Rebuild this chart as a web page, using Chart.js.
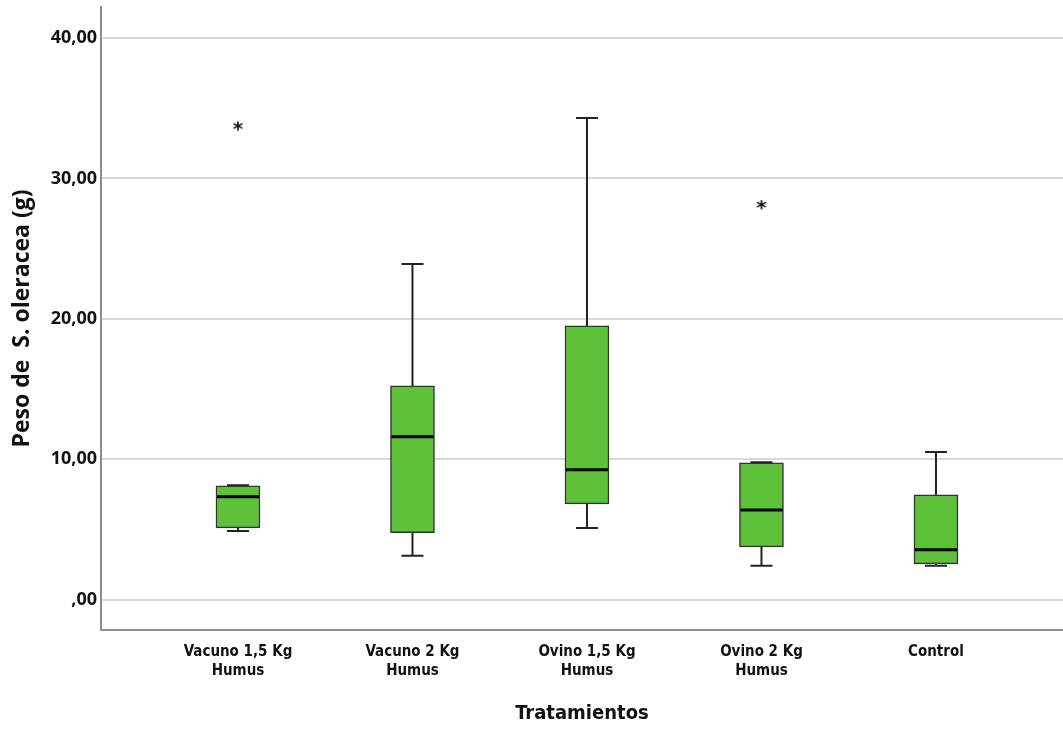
<!DOCTYPE html>
<html>
<head>
<meta charset="utf-8">
<script src="https://cdn.jsdelivr.net/npm/chart.js@4/dist/chart.umd.min.js"></script>
<style>
  body { margin: 0; background: #fff; overflow: hidden; }
  canvas { display: block; }
</style>
</head>
<body>
<canvas id="myChart" width="1063" height="729"></canvas>
<script>
var categories = [['Vacuno 1,5 Kg', 'Humus'], ['Vacuno 2 Kg', 'Humus'], ['Ovino 1,5 Kg', 'Humus'], ['Ovino 2 Kg', 'Humus'], ['Control']];
var whiskerLow  = [4.90, 3.13, 5.12, 2.42, 2.42];
var q1          = [5.12, 4.77, 6.83, 3.77, 2.56];
var median      = [7.33, 11.60, 9.25, 6.40, 3.56];
var q3          = [8.11, 15.23, 19.50, 9.75, 7.47];
var whiskerHigh = [8.15, 23.90, 34.30, 9.80, 10.53];
var outlierCat  = [1, 4];
var outlierVal  = [33.7, 28.1];
var yTicks      = [0, 10, 20, 30, 40];

var boxData = categories.map(function (c, i) { return {x: i + 1, y: [q1[i], q3[i]]}; });
var outData = outlierCat.map(function (c, i) { return {x: c, y: outlierVal[i]}; });

// little asterisk used as point style for extreme values
var star = document.createElement('canvas');
star.width = 16; star.height = 16;
var sctx = star.getContext('2d');
sctx.fillStyle = '#111';
sctx.font = 'bold 20px "DejaVu Sans"';
sctx.textAlign = 'center';
sctx.textBaseline = 'middle';
sctx.fillText('*', 8, 12);

var boxExtras = {
  id: 'boxExtras',
  beforeDatasetsDraw: function (chart) {
    var ctx = chart.ctx, x = chart.scales.x, y = chart.scales.y;
    ctx.save();
    ctx.strokeStyle = '#222';
    ctx.lineWidth = 2;
    for (var i = 0; i < categories.length; i++) {
      var px = x.getPixelForValue(i + 1);
      ctx.beginPath();
      ctx.moveTo(px, y.getPixelForValue(whiskerLow[i]));
      ctx.lineTo(px, y.getPixelForValue(whiskerHigh[i]));
      ctx.moveTo(px - 11, y.getPixelForValue(whiskerLow[i]));
      ctx.lineTo(px + 11, y.getPixelForValue(whiskerLow[i]));
      ctx.moveTo(px - 11, y.getPixelForValue(whiskerHigh[i]));
      ctx.lineTo(px + 11, y.getPixelForValue(whiskerHigh[i]));
      ctx.stroke();
    }
    ctx.restore();
  },
  afterDatasetsDraw: function (chart) {
    var ctx = chart.ctx, x = chart.scales.x, y = chart.scales.y;
    ctx.save();
    ctx.strokeStyle = '#000';
    ctx.lineWidth = 3;
    for (var i = 0; i < categories.length; i++) {
      var px = x.getPixelForValue(i + 1);
      var py = y.getPixelForValue(median[i]);
      ctx.beginPath();
      ctx.moveTo(px - 21, py);
      ctx.lineTo(px + 21, py);
      ctx.stroke();
    }
    ctx.restore();
  }
};

var ctx = document.getElementById('myChart').getContext('2d');
var myChart = new Chart(ctx, {
  type: 'bar',
  data: {
    datasets: [{
      type: 'bar',
      data: boxData,
      backgroundColor: '#5ec13a',
      borderColor: '#333333',
      borderWidth: 1.5,
      borderSkipped: false,
      barThickness: 44,
      order: 2
    }, {
      type: 'scatter',
      data: outData,
      pointStyle: star,
      order: 1
    }]
  },
  options: {
    responsive: false,
    devicePixelRatio: 1,
    animation: false,
    layout: { autoPadding: false, padding: { top: 7, right: 0, left: 0, bottom: 0 } },
    plugins: {
      legend: { display: false },
      tooltip: { enabled: false }
    },
    scales: {
      x: {
        type: 'linear',
        offset: false,
        min: 0.215,
        max: 5.728,
        afterBuildTicks: function (axis) {
          axis.ticks = categories.map(function (c, i) { return {value: i + 1}; });
        },
        afterFit: function (axis) {
          axis.height = 99;
          axis.paddingLeft = 0;
          axis.paddingRight = 0;
        },
        grid: { display: false, drawTicks: false },
        border: { display: true, color: '#8c8c8c', width: 2 },
        ticks: {
          autoSkip: false,
          maxRotation: 0,
          padding: 13,
          color: '#111',
          font: { family: "'Liberation Sans Narrow', 'DejaVu Sans Condensed', Roboto, sans-serif", weight: 'bold', size: 15, lineHeight: 1.25 },
          callback: function (v) { return categories[v - 1]; }
        },
        title: {
          display: true,
          text: 'Tratamientos',
          color: '#111',
          padding: { top: 0, bottom: 3 },
          font: { family: "'Liberation Sans Narrow', 'DejaVu Sans Condensed', Roboto, sans-serif", weight: 'bold', size: 20, lineHeight: 1.2 }
        }
      },
      y: {
        min: -2.15,
        max: 42.2,
        afterBuildTicks: function (axis) {
          axis.ticks = yTicks.map(function (v) { return {value: v}; });
        },
        afterFit: function (axis) {
          axis.width = 101;
          axis.paddingTop = 0;
          axis.paddingBottom = 0;
        },
        grid: { color: '#d9d9d9', lineWidth: 2, drawTicks: false },
        border: { display: true, color: '#8c8c8c', width: 2 },
        ticks: {
          padding: 4,
          color: '#111',
          font: { family: "'Open Sans', sans-serif", weight: 'bold', size: 18 },
          callback: function (v) { return v === 0 ? ',00' : v.toFixed(2).replace('.', ','); }
        },
        title: {
          display: true,
          text: 'Peso de  S. oleracea (g)',
          color: '#111',
          padding: { top: 9, bottom: 0 },
          font: { family: "'Open Sans', sans-serif", weight: 'bold', size: 23, lineHeight: 1.2 }
        }
      }
    }
  },
  plugins: [boxExtras]
});
</script>
</body>
</html>
